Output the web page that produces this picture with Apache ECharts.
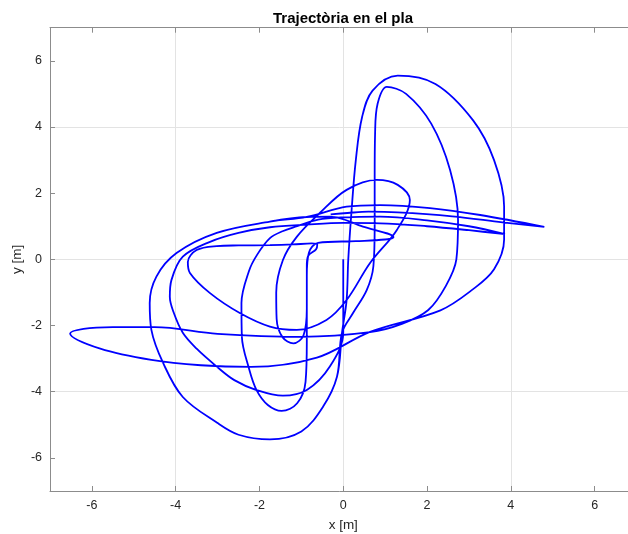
<!DOCTYPE html>
<html>
<head>
<meta charset="utf-8">
<script src="https://cdn.jsdelivr.net/npm/echarts@6/dist/echarts.min.js"></script>
<style>
html,body{margin:0;padding:0;background:#fff;}
#chart{width:628px;height:534px;}
</style>
</head>
<body>
<div id="chart"></div>
<script>
// Tick values shown on both axes
const xTicks = [-6, -4, -2, 0, 2, 4, 6];
const yTicks = [-6, -4, -2, 0, 2, 4, 6];

// Trajectory samples [x, y] in metres, in time order
const track = [
  // release at the origin, drop into the lower loop and the second left lobe
  [0,0],[0,-0.7],[0,-1.4],[0,-2.22],[-0.32,-3.24],[-0.87,-3.95],[-1.44,-4.12],[-2.07,-3.95],[-2.6,-3.65],[-3.02,-3.24],[-3.5,-2.7],[-3.83,-2.22],[-4.05,-1.6],[-4.14,-1.13],[-4.1,-0.62],[-3.83,0.08],[-3.18,0.53],[-2.5,0.8],[-1.75,0.97],[-0.87,1.05],[0,1.1],[0.88,1.09],[2.0,1.0],[3.0,0.88],[3.86,0.76],
  // back across, narrow loop, kink and the small left lobe
  [3.0,1.0],[2.0,1.18],[0.88,1.29],[0,1.27],[-0.6,1.2],[-1.1,1.0],[-1.45,0.85],[-1.75,0.64],[-2.05,0.15],[-2.25,-0.35],[-2.43,-1.32],[-2.42,-2.34],[-2.25,-3.3],[-2.07,-3.95],[-1.8,-4.4],[-1.47,-4.58],[-1.1,-4.35],[-0.9,-3.7],[-0.87,-2.5],[-0.87,-1.2],[-0.87,-0.2],[-0.84,0.1],[-0.65,0.3],[-0.62,0.45],[-0.75,0.48],[-1.2,0.45],[-1.75,0.43],[-2.5,0.42],[-3.02,0.4],[-3.5,0.28],[-3.71,-0.08],[-3.66,-0.41],[-3.18,-1.02],[-2.47,-1.62],[-1.75,-2.03],[-1.11,-2.13],[-0.4,-1.83],[0.08,-1.23],[0.64,-0.11],[1.28,0.89],[1.59,1.79],[1.3,2.25],[0.8,2.4],[0.08,2.1],[-0.56,1.4],[-1.11,0.68],[-1.44,-0.02],[-1.6,-1.0],[-1.59,-1.8],[-1.45,-2.35],[-1.19,-2.54],[-0.95,-2.3],[-0.87,-1.5],[-0.87,-0.5],[-0.82,0.2],[-0.6,0.5],[0.3,0.55],[1.0,0.6],[1.2,0.67],
  // hook, then the outer left lobe and the bottom loop
  [0.47,0.99],[-0.32,1.29],[-0.87,1.28],[-1.75,1.14],[-3.02,0.8],[-3.98,0.19],[-4.46,-0.52],[-4.62,-1.32],[-4.58,-2.13],[-4.3,-3.13],[-3.83,-4.16],[-3.01,-4.94],[-2.5,-5.3],[-1.75,-5.44],[-1.0,-5.2],[-0.48,-4.45],[-0.15,-3.55],[-0.03,-2.22],[0.08,-1.23],
  // outer tall arch
  [0.12,0.0],[0.2,1.5],[0.3,3.0],[0.45,4.3],[0.7,5.1],[1.3,5.55],[2.2,5.3],[3.1,4.2],[3.6,3.0],[3.84,1.6],[3.84,0.6],[3.6,-0.3],[3.1,-0.9],[2.32,-1.54],
  // long excursion to the far left
  [0.64,-2.19],[-0.63,-2.97],[-2.2,-3.25],[-3.4,-3.2],[-4.58,-3.04],[-5.8,-2.7],[-6.52,-2.24],[-6.2,-2.1],[-5.5,-2.05],[-4.5,-2.05],[-3.0,-2.25],[-1.0,-2.34],[0.64,-2.2],[1.4,-1.95],[2.03,-1.53],
  // inner tall arch
  [2.45,-0.8],[2.7,0.0],[2.74,1.19],[2.55,2.7],[2.1,4.1],[1.5,5.0],[1.04,5.21],[0.82,4.7],[0.76,3.8],[0.75,2.5],[0.75,1.0],[0.72,-0.2],[0.56,-0.93],[0.23,-1.63],[-0.03,-2.22],
  // bottom loop again and the long run to the right
  [-0.15,-3.55],[-0.48,-4.45],[-1.0,-5.2],[-1.75,-5.44],[-2.5,-5.3],[-3.01,-4.94],[-3.83,-4.16],[-4.3,-3.13],[-4.58,-2.13],[-4.62,-1.32],[-4.46,-0.52],[-3.98,0.19],[-3.02,0.8],[-1.75,1.14],[-0.87,1.28],[0.08,1.59],[0.88,1.64],[2.07,1.55],[3.27,1.34],[4.8,0.98],
  [3.8,1.12],[2.6,1.3],[1.3,1.42],[0.6,1.44],[0.1,1.4],[-0.3,1.36]
];

const chart = echarts.init(document.getElementById('chart'), null, {renderer: 'canvas'});

const axisColor = '#8c8c8c';
const gridColor = ['rgba(0,0,0,0)', '#e3e3e3'];
const labelStyle = {color: '#262626', fontSize: 12.5, fontFamily: 'Liberation Sans, Arial, sans-serif'};

function valueAxis(extra) {
  return Object.assign({
    type: 'value',
    min: -7,
    max: 7,
    interval: 1,
    axisLine: {show: true, onZero: false, lineStyle: {color: axisColor, width: 1}},
    axisTick: {show: true, inside: true, length: 5, lineStyle: {color: axisColor}},
    splitLine: {show: true, lineStyle: {color: gridColor, width: 1}},
    axisLabel: {show: true}
  }, extra);
}

chart.setOption({
  animation: false,
  backgroundColor: '#ffffff',
  title: {
    text: 'Trajectòria en el pla',
    left: 338,
    top: 6,
    textAlign: 'center',
    textStyle: {fontSize: 15, fontWeight: 'bold', color: '#000', fontFamily: 'Liberation Sans, Arial, sans-serif'}
  },
  grid: {left: 50, right: -8.5, top: 27.7, bottom: 43, containLabel: false, outerBoundsMode: 'none'},
  xAxis: [
    valueAxis({
      position: 'bottom',
      name: 'x [m]',
      nameLocation: 'middle',
      nameGap: 27,
      nameMoveOverlap: false,
      nameTextStyle: Object.assign({}, labelStyle, {fontSize: 13.5}),
      axisTick: {show: true, inside: true, length: 5, customValues: xTicks, lineStyle: {color: axisColor}},
      axisLabel: Object.assign({margin: 8, customValues: xTicks}, labelStyle)
    }),
    valueAxis({
      position: 'top',
      splitLine: {show: false},
      axisTick: {show: true, inside: true, length: 5, customValues: xTicks, lineStyle: {color: axisColor}},
      axisLabel: {show: false}
    })
  ],
  yAxis: [
    valueAxis({
      position: 'left',
      name: 'y [m]',
      nameLocation: 'middle',
      nameGap: 26,
      nameRotate: 90,
      nameMoveOverlap: false,
      nameTextStyle: Object.assign({}, labelStyle, {fontSize: 13.5}),
      axisTick: {show: true, inside: true, length: 5, customValues: yTicks, lineStyle: {color: axisColor}},
      axisLabel: Object.assign({margin: 8, customValues: yTicks}, labelStyle)
    }),
    valueAxis({
      position: 'right',
      splitLine: {show: false},
      axisTick: {show: true, inside: true, length: 5, customValues: yTicks, lineStyle: {color: axisColor}},
      axisLabel: {show: false}
    })
  ],
  series: [{
    type: 'line',
    data: track,
    xAxisIndex: 0,
    yAxisIndex: 0,
    showSymbol: false,
    smooth: 0.35,
    lineStyle: {color: '#0000ff', width: 1.8},
    silent: true
  }]
});
</script>
</body>
</html>
